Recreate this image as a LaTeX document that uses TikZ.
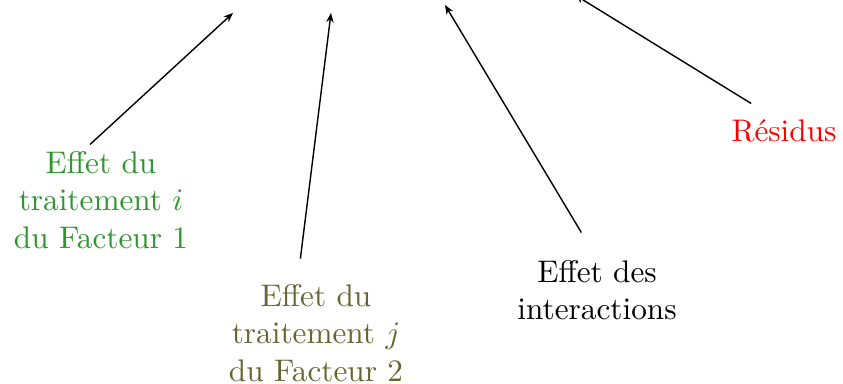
\documentclass[tikz,border=0pt]{standalone}
\usetikzlibrary{arrows.meta}
\definecolor{effgreen}{RGB}{46,150,46}
\definecolor{effolive}{RGB}{102,102,50}
\begin{document}
\begin{tikzpicture}[x=0.32pt,y=-0.32pt,
  lbl/.style={align=center,inner sep=0pt},
  arr/.style={-{Stealth[length=3pt,width=2.4pt]},line width=0.45pt}]
\useasboundingbox (0,0) rectangle (843,384);
\node[lbl,text=effgreen] (n1) at (101,200) {Effet du\\traitement $i$\\du Facteur 1};
\node[lbl,text=effolive] (n2) at (316,333) {Effet du\\traitement $j$\\du Facteur 2};
\node[lbl] (n3) at (597,290) {Effet des\\interactions};
\node[lbl,text=red] (n4) at (784,131) {Résidus};
\coordinate (t1) at (233,13);
\coordinate (t2) at (331,13);
\coordinate (t3) at (445,5);
\coordinate (t4) at (575,-5);
\draw[arr] ([xshift=-3.5pt,yshift=2pt]n1.north) -- (t1);
\draw[arr] ([xshift=-5pt,yshift=8pt]n2.north) -- (t2);
\draw[arr] ([xshift=-5pt,yshift=8.6pt]n3.north) -- (t3);
\draw[arr] ([xshift=-10.5pt,yshift=5pt]n4.north) -- (t4);
\end{tikzpicture}
\end{document}
